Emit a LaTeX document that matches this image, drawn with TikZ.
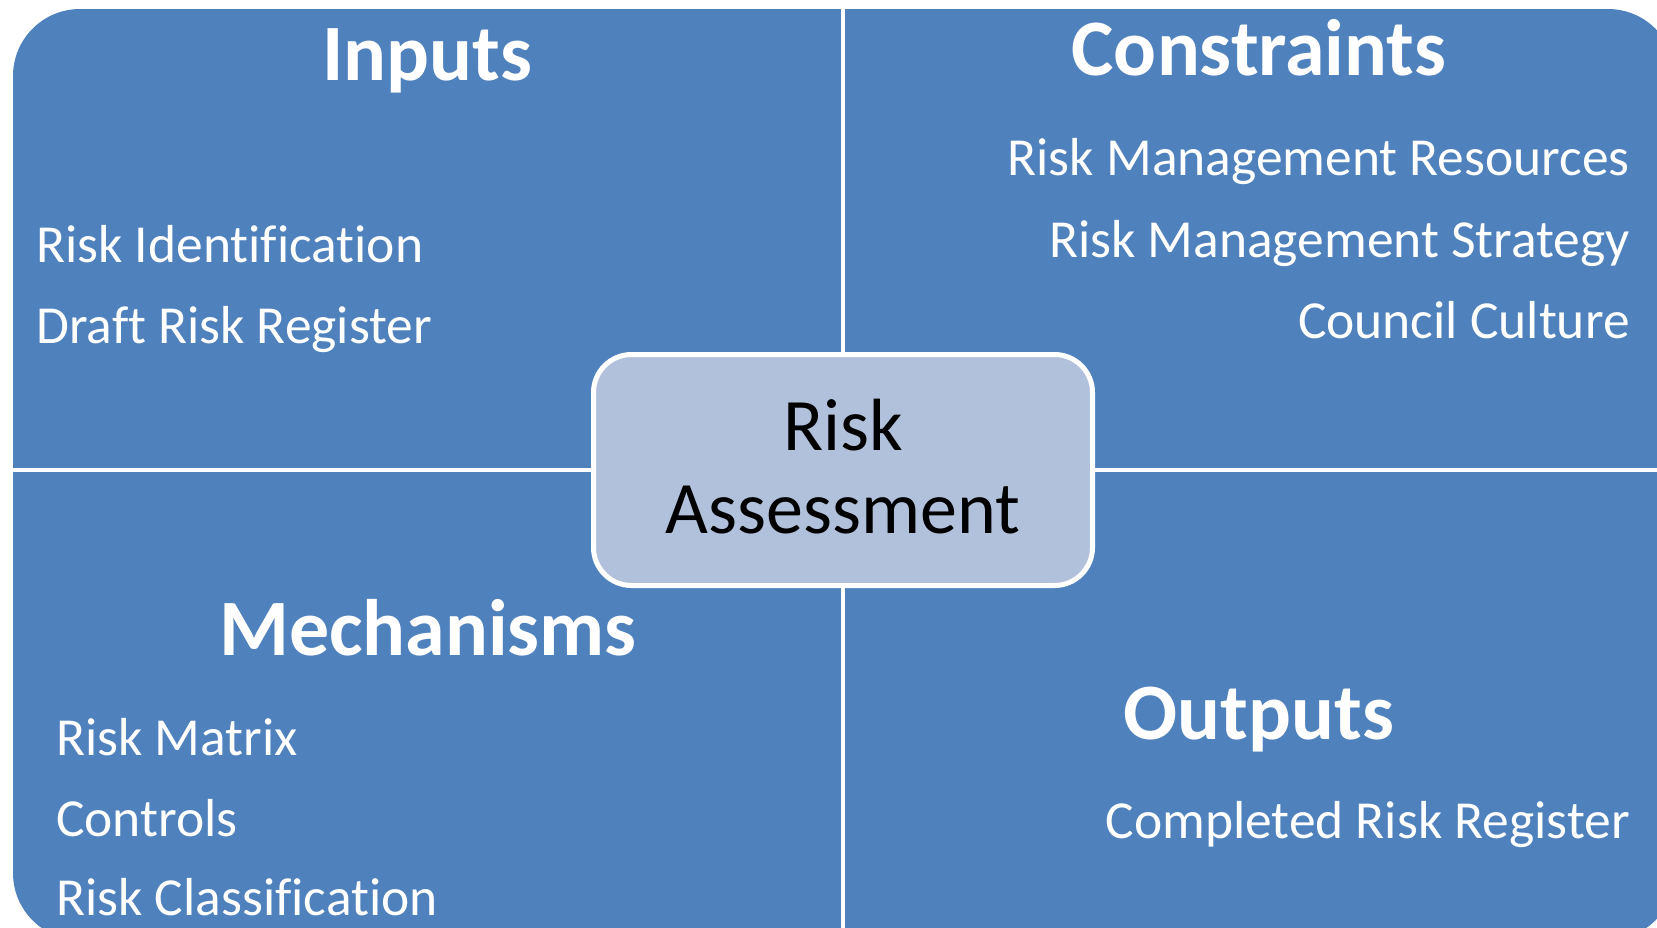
\documentclass[tikz,border=0pt]{standalone}
\usepackage{fontspec}
\setmainfont{Carlito}[Ligatures=NoCommon]
\definecolor{quadblue}{HTML}{4F81BD}
\definecolor{hubfill}{HTML}{B2C1DB}
\begin{document}
\begin{tikzpicture}[x=1pt,y=-1pt,
  heading/.style={text=white,font=\fontsize{80}{92}\selectfont\bfseries,inner sep=0pt},
  item/.style={text=white,font=\fontsize{53.5}{64}\selectfont,inner sep=0pt},
  hubtext/.style={text=black,font=\fontsize{74}{85}\selectfont,inner sep=0pt},
  divider/.style={draw=white,line width=4pt},
  hubbox/.style={draw=white,line width=5pt,fill=hubfill,rounded corners=38pt,
    minimum width=499pt,minimum height=231pt,inner sep=0pt}]
\useasboundingbox (0,0) rectangle (1657,927);
\clip (0,0) rectangle (1657,927);

% quadrant field
\fill[quadblue,rounded corners=67pt] (13,9) rectangle (1675,940);

% white dividers between the four quadrants
\coordinate (vtop) at (842.5,0);
\coordinate (vbot) at (842.5,940);
\coordinate (hleft) at (0,469.5);
\coordinate (hright) at (1675,469.5);
\draw[divider] (vtop) -- (vbot);
\draw[divider] (hleft) -- (hright);

% headings
\node[heading,anchor=base] (inputs) at (427,80) {Inputs};
\node[heading,anchor=base] (constraints) at (1259,75) {Constraints};
\node[heading,anchor=base] (mechanisms) at (428,655) {Mechanisms};
\node[heading,anchor=base] (outputs) at (1259,739) {Outputs};

% inputs
\node[item,anchor=base west] (in1) at (36,262) {Risk Identification};
\node[item,anchor=base west] (in2) at (36,343) {Draft Risk Register};

% constraints
\node[item,anchor=base east] (co1) at (1630,175) {Risk Management Resources};
\node[item,anchor=base east] (co2) at (1630,257) {Risk Management Strategy};
\node[item,anchor=base east] (co3) at (1630,338) {Council Culture};

% mechanisms
\node[item,anchor=base west] (me1) at (56,755) {Risk Matrix};
\node[item,anchor=base west] (me2) at (56,836) {Controls};
\node[item,anchor=base west] (me3) at (56,915) {Risk Classification};

% outputs
\node[item,anchor=base east] (ou1) at (1630,838) {Completed Risk Register};

% central process box
\node[hubbox] (hub) at (843,470) {};
\node[hubtext,anchor=base] (hub1) at (843,450) {Risk};
\node[hubtext,anchor=base] (hub2) at (843,533) {Assessment};
\end{tikzpicture}
\end{document}
